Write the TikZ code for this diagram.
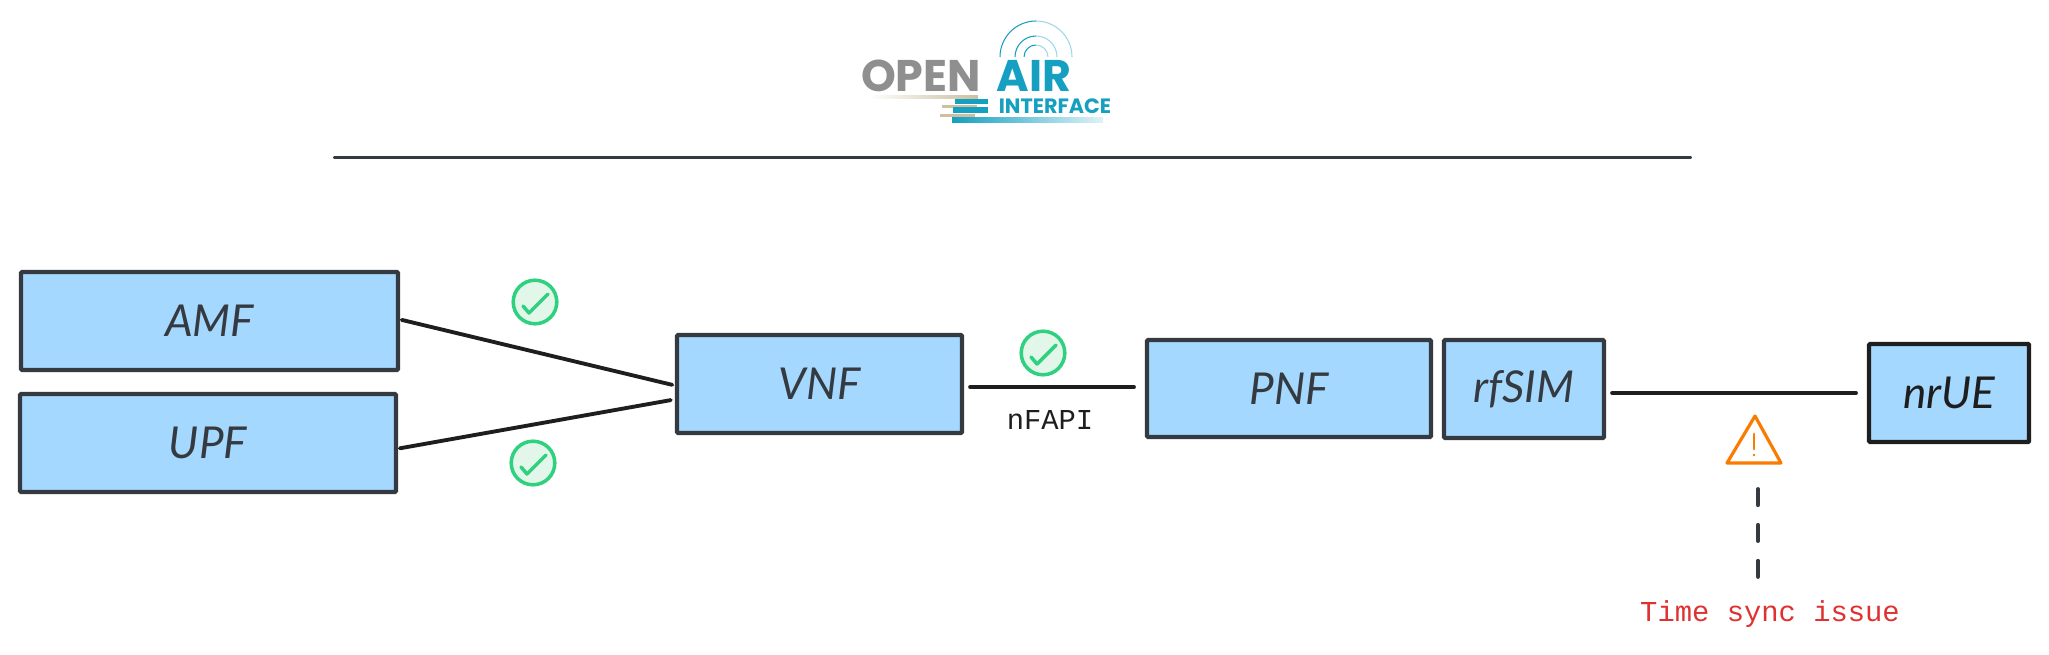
\documentclass[tikz,border=0pt]{standalone}
\usepackage{fontspec}
\setmainfont{Lato}
\newfontfamily\logofont{Poppins}
\setmonofont{Liberation Mono}
\usetikzlibrary{positioning, arrows.meta}
\definecolor{boxfill}{HTML}{A5D8FF}
\definecolor{boxline}{HTML}{343A40}
\definecolor{inkline}{HTML}{1E1E1E}
\definecolor{okgreen}{HTML}{2FD07F}
\definecolor{okfill}{HTML}{E2F7EA}
\definecolor{warnorange}{HTML}{FB7A00}
\definecolor{issuered}{HTML}{E03131}
\definecolor{airteal}{HTML}{159FC0}
\definecolor{airpale}{HTML}{BFE6F0}
\definecolor{opengrey}{HTML}{8F8F8F}
\definecolor{stripesand}{HTML}{CDBF9F}
\tikzset{
  sketchbox/.style={draw=boxline, fill=boxfill, line width=1.2pt, rounded corners=0.3pt, inner sep=0pt, outer sep=0pt, font=\itshape\fontsize{12.5}{15}\selectfont, text=boxline},
  link/.style={draw=inkline, line width=1.1pt, line cap=round},
  okdot/.style={circle, draw=okgreen, fill=okfill, line width=1pt, minimum size=12.4pt, inner sep=0pt},
  oktick/.style={draw=okgreen, line width=1pt, line cap=round, line join=round},
  monolabel/.style={font=\ttfamily\fontsize{8.2}{10}\selectfont, inner sep=0pt},
  logotext/.style={font=\logofont\bfseries\fontsize{#1}{#1}\selectfont, inner sep=0pt}
}

\begin{document}
\begin{tikzpicture}[x=0.01cm, y=-0.01cm]
\useasboundingbox (0,0) rectangle (2049,655);

% Logo
\foreach \r in {12,21,36} {
    \draw[airteal, line width=0.3pt] (1036-\r,57) arc (180:270:\r);
    \draw[airpale!80!airteal, line width=0.3pt] (1036,57-\r) arc (270:360:\r);
}
\shade[left color=white, right color=stripesand] (868,96) rectangle (978,99);
\fill[stripesand] (942,105) rectangle (977,108);
\fill[stripesand] (940,114) rectangle (975,117);
\fill[airteal] (955,99) rectangle (988,104);
\fill[airteal] (953,107) rectangle (988,113);
\shade[left color=airteal, right color=airpale!50] (952,118) rectangle (1103,123);
\node[logotext=12.6, text=opengrey] (open) at (921,76) {OPEN};
\node[logotext=12.6, text=airteal] (air) at (1034,76) {AIR};
\node[logotext=5.9, text=airteal] (interface) at (1055,106) {INTERFACE};

% Top rule
\coordinate (ruleleft) at (335,157.5);
\coordinate (ruleright) at (1690,157.5);
\draw[link, draw=boxline] (ruleleft) -- (ruleright);

% Boxes
\foreach \name/\x/\y/\w/\h/\txt in {amf/209.5/321/377/98/AMF, upf/208/443/376/98/UPF, vnf/819.5/384/285/98/VNF, pnf/1289/388.5/284/97/PNF, rfsim/1524/389/160/98/rfSIM} {
    \node[sketchbox, minimum width=\w*0.01cm, minimum height=\h*0.01cm] (\name) at (\x,\y) {\txt};
}
\node[sketchbox, draw=inkline, text=inkline, minimum width=1.6cm, minimum height=0.98cm] (nrue) at (1949,393) {nrUE};

% Links
\draw[link, shorten <=1.1pt, shorten >=1.4pt] ([shift={(0,-2)}]amf.east) -- ([shift={(0,2)}]vnf.west);
\draw[link, shorten <=1.1pt, shorten >=1.8pt] ([shift={(0,6)}]upf.east) -- ([shift={(0,15)}]vnf.west);
\draw[link, shorten <=2.3pt, shorten >=3.7pt] ([shift={(0,3)}]vnf.east) -- ([shift={(0,-1.5)}]pnf.west);
\draw[link, shorten <=2.3pt, shorten >=3.7pt] (rfsim.east |- nrue.west) -- (nrue.west);
\node[monolabel, text=inkline] (nfapi) at (1050,420) {nFAPI};

% Check marks
\foreach \name/\x/\y in {okamf/535/302, okupf/533/463, oknfapi/1043/353} {
    \node[okdot] (\name) at (\x,\y) {};
    \draw[oktick] ([shift={(-12,4)}]\name.center) -- ++(6,7) -- ++(19,-19);
}

% Warning
\draw[warnorange, line width=0.9pt, line join=round] (1755,416) -- (1781,463) -- (1727,463) -- cycle;
\draw[warnorange, line width=0.8pt, line cap=round] (1754,434) -- (1754,449);
\fill[warnorange] (1754,455) circle (1.3);
\coordinate (warnfoot) at (1758,489);
\coordinate (issuehead) at (1758,581);
\draw[draw=boxline, line width=1.1pt, line cap=round, dash pattern=on 4.6pt off 5.6pt] (warnfoot) -- (issuehead);
\node[monolabel, text=issuered] (issue) at (1770,614) {Time sync issue};

\end{tikzpicture}
\end{document}
